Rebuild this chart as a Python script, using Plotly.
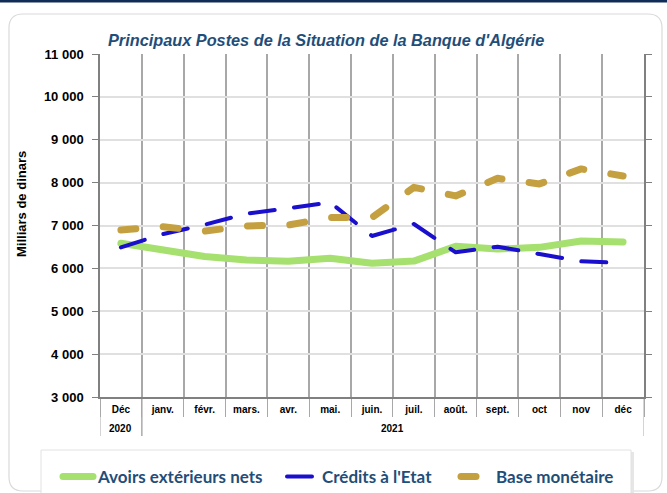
import plotly.graph_objects as go

# ---- data ----
years = ["2020"] + ["2021"] * 12
months = ["Déc", "janv.", "févr.", "mars.", "avr.", "mai.", "juin.", "juil.",
          "août.", "sept.", "oct", "nov", "déc"]
avoirs = [6585, 6445, 6275, 6195, 6165, 6235, 6120, 6170, 6515, 6450, 6490, 6640, 6615]
credits = [6490, 6800, 7020, 7275, 7400, 7540, 6755, 7035, 6375, 6505, 6335, 6165, 6125]
base = [6895, 6970, 6870, 6990, 7010, 7185, 7185, 7890, 7690, 8100, 7970, 8320, 8155]
series_names = ["Avoirs extérieurs nets", "Crédits à l'Etat", "Base monétaire"]
y_ticks = [3000, 4000, 5000, 6000, 7000, 8000, 9000, 10000, 11000]

W, H = 667, 493
L, R, T, B = 100, 23, 54, 96
PW, PH = W - L - R, H - T - B


def px(x):
    return (x - L) / PW


def py(y):
    return (H - B - y) / PH


NAVY = "#1F4E79"
GRIDV = "#A8A8A8"
fig = go.Figure()
fig.add_trace(go.Scatter(x=months, y=avoirs, name=series_names[0], mode="lines",
                         line=dict(color="#A6E06E", width=7), legend="legend"))
fig.add_trace(go.Scatter(x=months, y=credits, name=series_names[1], mode="lines",
                         line=dict(color="#1A0FCC", width=4, dash="25px,19.5px"), legend="legend2"))
fig.add_trace(go.Scatter(x=months, y=base, name=series_names[2], mode="lines",
                         line=dict(color="#C4A040", width=7, dash="15px,27.4px"), legend="legend3"))


def rounded(x0, y0, x1, y1, r):
    rx, ry = r / PW, r / PH
    X0, X1, Y0, Y1 = px(x0), px(x1), py(y0), py(y1)
    return (f"M {X0+rx},{Y0} L {X1-rx},{Y0} Q {X1},{Y0} {X1},{Y0-ry} "
            f"L {X1},{Y1+ry} Q {X1},{Y1} {X1-rx},{Y1} L {X0+rx},{Y1} "
            f"Q {X0},{Y1} {X0},{Y1+ry} L {X0},{Y0-ry} Q {X0},{Y0} {X0+rx},{Y0} Z")


shapes = [
    dict(type="rect", xref="paper", yref="paper", x0=px(0), x1=px(W), y0=py(0), y1=py(2.5),
         fillcolor="#0E2C57", line=dict(width=0), layer="below"),
    dict(type="path", xref="paper", yref="paper", path=rounded(9, 14, 662, 491, 14),
         line=dict(color="#DADADA", width=1.2), fillcolor="white", layer="below"),
    dict(type="rect", xref="paper", yref="paper", x0=px(43), x1=px(634), y0=py(452), y1=py(500),
         fillcolor="#E6E6E6", line=dict(width=0), layer="above"),
    dict(type="rect", xref="paper", yref="paper", x0=px(41), x1=px(631), y0=py(450), y1=py(498),
         fillcolor="white", line=dict(color="#E2E2E2", width=1), layer="above"),
]

# year groups: label annotations and long dividers at group boundaries
annotations = []
groups = []
for i, yr in enumerate(years):
    if not groups or groups[-1][0] != yr:
        groups.append([yr, i, i])
    else:
        groups[-1][2] = i
for yr, i0, i1 in groups:
    annotations.append(dict(text=f"<b>{yr}</b>", xref="x", yref="paper", x=(i0 + i1) / 2,
                            y=py(428), showarrow=False, xanchor="center", yanchor="middle",
                            font=dict(family="Liberation Sans", size=10, color="black")))
    for xb in (i0 - 0.5, i1 + 0.5):
        shapes.append(dict(type="line", xref="x", yref="paper", x0=xb, x1=xb,
                           y0=py(397), y1=py(436), line=dict(color=GRIDV, width=1),
                           layer="below"))

annotations += [
    dict(text="<b><i>Principaux Postes de la Situation de la Banque d'Algérie</i></b>",
         xref="paper", yref="paper", x=px(326), y=py(40), showarrow=False,
         xanchor="center", yanchor="middle",
         font=dict(family="Liberation Sans", size=16.3, color=NAVY)),
    dict(text="<b>Milliars de dinars</b>", xref="paper", yref="paper", x=px(21), y=py(204),
         showarrow=False, textangle=-90, xanchor="center", yanchor="middle",
         font=dict(family="Liberation Sans", size=13, color="black")),
]

legend_font = dict(family="Lato", size=17, color=NAVY, weight="bold")
leg_common = dict(orientation="h", bgcolor="rgba(0,0,0,0)", borderwidth=0, font=legend_font,
                  xanchor="left", yanchor="middle", y=py(477))

fig.update_layout(
    width=W, height=H,
    margin=dict(l=L, r=R, t=T, b=B, autoexpand=False),
    paper_bgcolor="white", plot_bgcolor="white",
    separators=", ",
    showlegend=True,
    legend=dict(x=px(58), **leg_common),
    legend2=dict(x=px(282), **leg_common),
    legend3=dict(x=px(456), **leg_common),
    shapes=shapes,
    annotations=annotations,
    xaxis=dict(
        type="category", range=[-0.5, len(months) - 0.5],
        showgrid=True, gridcolor=GRIDV, gridwidth=1.5,
        tickson="boundaries", ticks="outside", ticklen=18, tickcolor=GRIDV,
        showline=True, linecolor="#808080", linewidth=1.5,
        tickfont=dict(family="Liberation Sans", size=10, color="black", weight="bold"),
        ticklabelstandoff=2, zeroline=False,
    ),
    yaxis=dict(
        range=[3000, 11000], tickvals=y_ticks, tickformat=",d",
        showgrid=True, gridcolor="#E0E0E0", gridwidth=1.5,
        ticks="outside", ticklen=6, tickcolor="#808080",
        showline=True, linecolor="#808080", linewidth=1.5, mirror="ticks",
        tickfont=dict(family="Liberation Sans", size=13, color="black", weight="bold"),
        ticklabelstandoff=6, zeroline=False,
    ),
)

post = ("document.body.style.margin='0';"
        "document.querySelectorAll('path.js-line').forEach(function(p){"
        "p.style.strokeLinecap='round';p.style.strokeLinejoin='round';});")
fig.write_html("out.html", post_script=post, config={"displayModeBar": False})
